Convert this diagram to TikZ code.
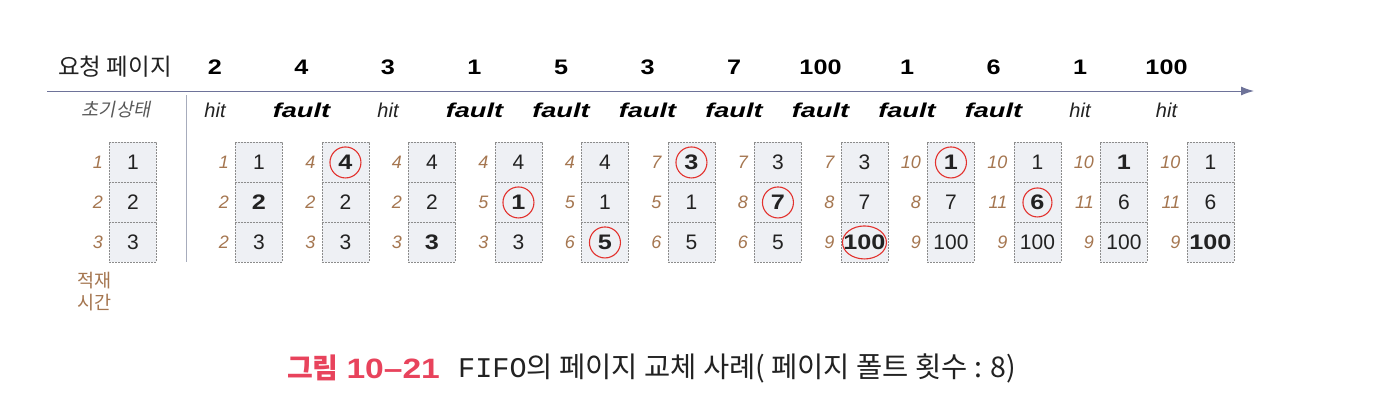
\documentclass[tikz,border=0pt]{standalone}
\usepackage{fontspec}
\setmainfont{Liberation Sans}
\newfontfamily\kr{Noto Sans CJK KR}
\newfontfamily\krsl[FakeSlant=0.2]{Noto Sans CJK KR}
\newfontfamily\bw[FakeStretch=1.2]{Liberation Sans}
\newfontfamily\bww[FakeStretch=1.36]{Liberation Sans}
\newfontfamily\capmono{Liberation Mono}
\usetikzlibrary{arrows.meta,shapes.geometric}
\definecolor{axisc}{HTML}{6E7399}
\definecolor{sepc}{HTML}{A7ACBC}
\definecolor{labc}{HTML}{A57650}
\definecolor{cellfill}{HTML}{EEF0F4}
\definecolor{celldraw}{HTML}{8C8C8C}
\definecolor{markc}{HTML}{E2322E}
\definecolor{capc}{HTML}{E8435C}
\definecolor{txtc}{HTML}{222222}
\newcommand{\hb}[1]{{\bw\bfseries #1}}
\begin{document}
\begin{tikzpicture}[x=1pt,y=-1pt,
  cell/.style={draw=celldraw, fill=cellfill, dash pattern=on 2pt off 1pt, line width=0.9pt,
    minimum width=47pt, minimum height=40pt, inner sep=0pt, anchor=north west,
    text=txtc, font=\fontsize{21}{21}\selectfont},
  lbl/.style={anchor=east, inner sep=0pt, text=labc, font=\itshape\fontsize{18}{18}\selectfont},
  reqn/.style={inner sep=0pt, text=black, font=\bw\bfseries\fontsize{21}{21}\selectfont},
  sth/.style={inner sep=0pt, text=txtc, font=\itshape\fontsize{20}{20}\selectfont},
  stf/.style={inner sep=0pt, text=black, font=\bww\bfseries\itshape\fontsize{20}{20}\selectfont},
  mk/.style={draw=markc, line width=1.1pt, circle, minimum size=31pt, inner sep=0pt},
  mke/.style={draw=markc, line width=1.1pt, ellipse, minimum width=44pt, minimum height=33pt, inner sep=0pt},
  axisline/.style={draw=axisc, line width=1pt, -{Latex[length=13pt,width=9pt]}},
  sepline/.style={draw=sepc, line width=1pt}
]
\useasboundingbox (0,0) rectangle (1386,416);
\fill[white] (0,0) rectangle (1386,416);

% header
\node[inner sep=0pt, text=txtc, font=\kr\fontsize{23.5}{23.5}\selectfont] (hdr) at (115,67) {요청 페이지};
\coordinate (ax0) at (47,91);
\coordinate (ax1) at (1254,91);
\draw[axisline] (ax0) -- (ax1);
\node[inner sep=0pt, text=txtc!75, font=\krsl\fontsize{18.5}{18.5}\selectfont] (init) at (116,110) {초기상태};
\coordinate (s0) at (186,95);
\coordinate (s1) at (186,262);
\draw[sepline] (s0) -- (s1);

\foreach \i/\n/\s in {1/2/h,2/4/f,3/3/h,4/1/f,5/5/f,6/3/f,7/7/f,8/100/f,9/1/f,10/6/f,11/1/h,12/100/h}{
  \pgfmathsetmacro\hx{215+86.5*(\i-1)}
  \node[reqn] (r\i) at (\hx,67) {\n};
  \if h\s
    \node[sth] (st\i) at (\hx,110) {hit};
  \else
    \node[stf] (st\i) at (\hx,110) {fault};
  \fi
}

% initial state
\node[cell] (c0-1) at (109,142) {1};
\node[cell] (c0-2) at (109,182) {2};
\node[cell] (c0-3) at (109,222) {3};
\node[lbl] (l0-1) at ([xshift=-6pt]c0-1.west) {1};
\node[lbl] (l0-2) at ([xshift=-6pt]c0-2.west) {2};
\node[lbl] (l0-3) at ([xshift=-6pt]c0-3.west) {3};
\node[anchor=north west, inner sep=0pt, align=left, text=labc, font=\kr\fontsize{18.5}{22}\selectfont] (load) at (77,272) {적재\\시간};

% columns
\foreach \i/\la/\lb/\lc/\va/\vb/\vc in {
  1/1/2/2/1/\hb{2}/3,
  2/4/2/3/\hb{4}/2/3,
  3/4/2/3/4/2/\hb{3},
  4/4/5/3/4/\hb{1}/3,
  5/4/5/6/4/1/\hb{5},
  6/7/5/6/\hb{3}/1/5,
  7/7/8/6/3/\hb{7}/5,
  8/7/8/9/3/7/\hb{100},
  9/10/8/9/\hb{1}/7/100,
  10/10/11/9/1/\hb{6}/100,
  11/10/11/9/\hb{1}/6/100,
  12/10/11/9/1/6/\hb{100}}{
  \pgfmathsetmacro\bx{235+86.5*(\i-1)}
  \node[cell] (c\i-1) at (\bx,142) {\va};
  \node[cell] (c\i-2) at (\bx,182) {\vb};
  \node[cell] (c\i-3) at (\bx,222) {\vc};
  \node[lbl] (l\i-1) at ([xshift=-6pt]c\i-1.west) {\la};
  \node[lbl] (l\i-2) at ([xshift=-6pt]c\i-2.west) {\lb};
  \node[lbl] (l\i-3) at ([xshift=-6pt]c\i-3.west) {\lc};
}

% replacement marks
\node[mk] (m2) at (c2-1) {};
\node[mk] (m4) at (c4-2) {};
\node[mk] (m5) at (c5-3) {};
\node[mk] (m6) at (c6-1) {};
\node[mk] (m7) at (c7-2) {};
\node[mke] (m8) at (c8-3) {};
\node[mk] (m9) at (c9-1) {};
\node[mk, minimum size=29pt] (m10) at (c10-2) {};

% caption
\node[anchor=west, inner sep=0pt, text=capc, font=\fontsize{28}{28}\selectfont] (capa) at (287,368) {{\kr\bfseries 그림} {\bw\bfseries 10–21}};
\node[anchor=west, inner sep=0pt, text=txtc, font=\kr\fontsize{28.5}{28.5}\selectfont] (capb) at (458,368) {{\capmono FIFO}의 페이지 교체 사례( 페이지 폴트 횟수 : 8)};
\end{tikzpicture}
\end{document}
